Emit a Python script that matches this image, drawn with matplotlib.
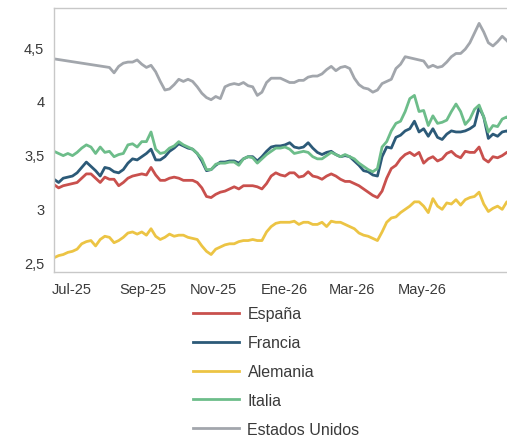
import numpy as np
import pandas as pd
import matplotlib
matplotlib.use('Agg')
import matplotlib.pyplot as plt

plt.rcParams['font.family'] = ['Liberation Sans', 'DejaVu Sans']

# Sample every 4 days, starting mid June 2025.
dates = pd.date_range('2025-06-16', periods=100, freq='4D')

espana = [
    3.22, 3.19, 3.21, 3.22, 3.23, 3.24, 3.28, 3.32, 3.32, 3.28,
    3.24, 3.29, 3.27, 3.27, 3.21, 3.24, 3.28, 3.30, 3.31, 3.32,
    3.31, 3.38, 3.31, 3.26, 3.26, 3.28, 3.29, 3.28, 3.26, 3.26,
    3.26, 3.24, 3.19, 3.11, 3.10, 3.13, 3.15, 3.16, 3.18, 3.20,
    3.18, 3.21, 3.21, 3.21, 3.20, 3.18, 3.23, 3.30, 3.33, 3.31,
    3.30, 3.33, 3.33, 3.29, 3.30, 3.34, 3.30, 3.29, 3.27, 3.30,
    3.32, 3.30, 3.27, 3.25, 3.25, 3.23, 3.21, 3.18, 3.15, 3.12,
    3.10, 3.16, 3.28, 3.37, 3.40, 3.46, 3.50, 3.52, 3.49, 3.52,
    3.42, 3.46, 3.48, 3.44, 3.46, 3.51, 3.53, 3.49, 3.47, 3.53,
    3.52, 3.52, 3.57, 3.46, 3.43, 3.48, 3.47, 3.49, 3.52, 3.53,
]

francia = [
    3.27, 3.24, 3.28, 3.29, 3.30, 3.33, 3.38, 3.43, 3.39, 3.35,
    3.30, 3.38, 3.37, 3.34, 3.33, 3.36, 3.42, 3.46, 3.45, 3.48,
    3.51, 3.55, 3.45, 3.45, 3.48, 3.53, 3.56, 3.60, 3.58, 3.56,
    3.55, 3.51, 3.44, 3.35, 3.36, 3.40, 3.43, 3.43, 3.44, 3.44,
    3.42, 3.46, 3.48, 3.48, 3.44, 3.48, 3.53, 3.57, 3.58, 3.58,
    3.59, 3.61, 3.57, 3.56, 3.57, 3.61, 3.56, 3.52, 3.50, 3.52,
    3.53, 3.50, 3.48, 3.49, 3.48, 3.44, 3.40, 3.35, 3.34, 3.31,
    3.30, 3.48, 3.57, 3.56, 3.66, 3.68, 3.72, 3.74, 3.81, 3.71,
    3.74, 3.67, 3.74, 3.66, 3.64, 3.69, 3.72, 3.71, 3.71, 3.72,
    3.74, 3.77, 3.94, 3.85, 3.65, 3.69, 3.67, 3.71, 3.72, 3.69,
]

alemania = [
    2.54, 2.56, 2.57, 2.59, 2.60, 2.62, 2.67, 2.69, 2.70, 2.65,
    2.71, 2.74, 2.73, 2.68, 2.70, 2.73, 2.77, 2.78, 2.76, 2.78,
    2.75, 2.81, 2.74, 2.71, 2.73, 2.76, 2.74, 2.75, 2.75, 2.73,
    2.72, 2.71, 2.65, 2.60, 2.57, 2.62, 2.64, 2.66, 2.67, 2.67,
    2.69, 2.70, 2.70, 2.71, 2.70, 2.70, 2.78, 2.83, 2.86, 2.87,
    2.87, 2.87, 2.88, 2.85, 2.87, 2.87, 2.85, 2.85, 2.87, 2.83,
    2.88, 2.87, 2.87, 2.85, 2.83, 2.81, 2.77, 2.75, 2.74, 2.72,
    2.70, 2.78, 2.87, 2.91, 2.92, 2.96, 2.99, 3.02, 3.06, 3.06,
    3.02, 2.96, 3.09, 3.02, 2.99, 3.05, 3.04, 3.08, 3.03, 3.08,
    3.10, 3.11, 3.15, 3.04, 2.97, 3.00, 3.02, 2.99, 3.06, 3.05,
]

italia = [
    3.53, 3.51, 3.49, 3.51, 3.49, 3.52, 3.56, 3.59, 3.57, 3.51,
    3.57, 3.52, 3.53, 3.48, 3.50, 3.51, 3.59, 3.60, 3.57, 3.62,
    3.62, 3.71, 3.55, 3.51, 3.52, 3.56, 3.58, 3.62, 3.59, 3.57,
    3.55, 3.51, 3.46, 3.36, 3.36, 3.41, 3.42, 3.42, 3.43, 3.43,
    3.40, 3.46, 3.48, 3.47, 3.42, 3.46, 3.50, 3.53, 3.56, 3.56,
    3.57, 3.55, 3.51, 3.52, 3.53, 3.52, 3.48, 3.46, 3.46, 3.49,
    3.52, 3.50, 3.48, 3.50, 3.48, 3.46, 3.42, 3.39, 3.36, 3.34,
    3.37, 3.57, 3.62, 3.72, 3.79, 3.81, 3.90, 4.02, 4.05, 3.90,
    3.91, 3.77, 3.86, 3.79, 3.80, 3.82, 3.90, 3.97, 3.90, 3.78,
    3.83, 3.92, 3.96, 3.85, 3.71, 3.77, 3.76, 3.83, 3.85, 3.81,
]

# US series has a gap at the start (drawn as a straight segment)
nan = np.nan
eeuu = [
    4.39, nan, nan, nan, nan, nan, nan, nan, nan, nan,
    nan, nan, 4.31, 4.26, 4.32, 4.35, 4.36, 4.36, 4.38, 4.34,
    4.31, 4.33, 4.27, 4.18, 4.10, 4.11, 4.15, 4.20, 4.18, 4.20,
    4.18, 4.13, 4.07, 4.03, 4.01, 4.04, 4.02, 4.13, 4.15, 4.16,
    4.15, 4.17, 4.14, 4.13, 4.05, 4.08, 4.17, 4.21, 4.21, 4.21,
    4.19, 4.17, 4.17, 4.19, 4.19, 4.22, 4.23, 4.23, 4.25, 4.29,
    4.32, 4.28, 4.31, 4.32, 4.30, 4.21, 4.15, 4.12, 4.11, 4.08,
    4.10, 4.16, 4.18, 4.20, 4.30, 4.34, 4.41, 4.40, 4.39, 4.38,
    4.37, 4.31, 4.33, 4.31, 4.32, 4.36, 4.41, 4.44, 4.44, 4.48,
    4.54, 4.63, 4.72, 4.64, 4.54, 4.51, 4.55, 4.60, 4.56, 4.51,
]

series = [
    ('España', espana, '#c9504d'),
    ('Francia', francia, '#2c5a78'),
    ('Alemania', alemania, '#ecc444'),
    ('Italia', italia, '#6dbd8a'),
    ('Estados Unidos', eeuu, '#a2a6ac'),
]

tick_dates = pd.to_datetime(['2025-07-01', '2025-09-01', '2025-11-01',
                             '2026-01-01', '2026-03-01', '2026-05-01'])
tick_labels = ['Jul-25', 'Sep-25', 'Nov-25', 'Ene-26', 'Mar-26', 'May-26']
y_ticks = [2.5, 3.0, 3.5, 4.0, 4.5]
y_labels = ['2,5', '3', '3,5', '4', '4,5']

fig = plt.figure(figsize=(5.07, 4.39), dpi=100)
ax = fig.add_axes([0.1065, 0.378, 0.90, 0.6015])

for name, vals, color in series:
    s = pd.Series(vals, index=dates).dropna()
    ax.plot(s.index, s.values, color=color, lw=2.0, label=name,
            solid_joinstyle='round')

ax.set_xlim(dates[0], dates[0] + pd.Timedelta(days=395))
ax.set_ylim(2.407, 4.863)
ax.set_xticks(tick_dates)
ax.set_xticklabels(tick_labels)
ax.set_yticks(y_ticks)
ax.set_yticklabels(y_labels)
ax.tick_params(axis='both', length=0, labelsize=10.5, labelcolor='#3a3a3a')
ax.tick_params(axis='x', pad=7.5)
ax.tick_params(axis='y', pad=7)
for side in ['left', 'top', 'bottom', 'right']:
    ax.spines[side].set_color('#c8c8c8')
    ax.spines[side].set_linewidth(1.0)

fig.legend(loc='upper left', bbox_to_anchor=(0.381, 0.30), frameon=False,
           borderpad=0, borderaxespad=0, handlelength=2.9,
           handletextpad=0.5, labelspacing=0.87, fontsize=11.5,
           labelcolor='#3a3a3a')

fig.savefig('out.png', dpi=100)
